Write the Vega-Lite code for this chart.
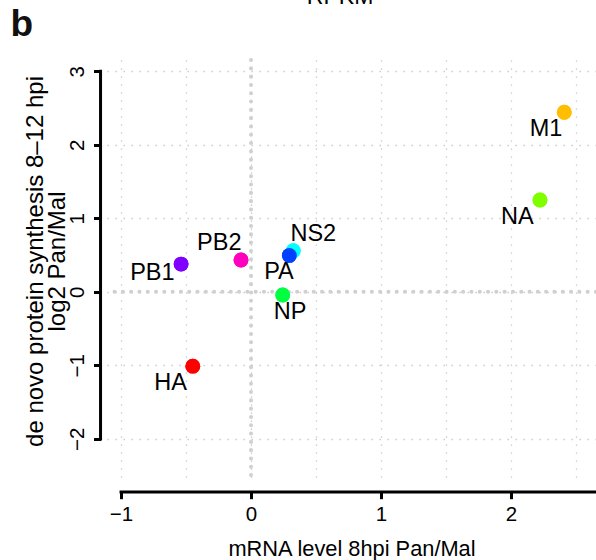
{
  "$schema": "https://vega.github.io/schema/vega-lite/v6.json",
  "width": 489,
  "height": 423,
  "autosize": {"type": "none"},
  "padding": {"left": 107, "top": 60, "right": 0, "bottom": 77},
  "config": {"view": {"stroke": null}, "font": "Liberation Sans"},
  "data": {
    "values": [
      {"gene": "HA", "mrna": -0.448, "protein": -1.011, "lx": -0.618, "ly": -1.246},
      {"gene": "M1", "mrna": 2.41, "protein": 2.441, "lx": 2.269, "ly": 2.21},
      {"gene": "NA", "mrna": 2.223, "protein": 1.248, "lx": 2.049, "ly": 1.021},
      {"gene": "NP", "mrna": 0.244, "protein": -0.044, "lx": 0.3, "ly": -0.275},
      {"gene": "NS2", "mrna": 0.325, "protein": 0.559, "lx": 0.479, "ly": 0.785},
      {"gene": "PA", "mrna": 0.295, "protein": 0.495, "lx": 0.215, "ly": 0.265},
      {"gene": "PB1", "mrna": -0.538, "protein": 0.377, "lx": -0.759, "ly": 0.25},
      {"gene": "PB2", "mrna": -0.077, "protein": 0.432, "lx": -0.244, "ly": 0.667}
    ]
  },
  "resolve": {"axis": {"x": "independent", "y": "independent"}},
  "layer": [
    {
      "mark": {"type": "circle", "size": 220, "opacity": 1},
      "encoding": {
        "x": {
          "field": "mrna", "type": "quantitative",
          "scale": {"domain": [-1.108, 2.654], "nice": false, "zero": false},
          "axis": {
            "orient": "bottom", "values": [-1, -0.5, 0, 0.5, 1, 1.5, 2, 2.5],
            "grid": true, "gridDash": [1.3, 6.7], "gridColor": "#c4c4c4", "gridWidth": 1.3,
            "domain": false, "ticks": false, "labels": false, "title": null
          }
        },
        "y": {
          "field": "protein", "type": "quantitative",
          "scale": {"domain": [-2.6, 3.152], "nice": false, "zero": false},
          "axis": {
            "orient": "left", "values": [-2, -1, 0, 1, 2, 3], "offset": 6.5,
            "grid": true, "gridDash": [1.3, 6.7], "gridColor": "#c4c4c4", "gridWidth": 1.3,
            "domain": false, "ticks": true, "tickSize": 7, "tickWidth": 3, "tickColor": "black",
            "labelAngle": 270, "labelAlign": "center", "labelBaseline": "alphabetic",
            "labelPadding": 10.5, "labelFontSize": 20.5, "labelColor": "black",
            "labelFont": "Liberation Sans",
            "title": ["de novo protein synthesis 8\u201312 hpi", "log2 Pan/Mal"],
            "titleFontSize": 24, "titleFontWeight": "normal", "titleColor": "black",
            "titleFont": "Liberation Sans", "titleLineHeight": 22,
            "titleAngle": 270, "titleAlign": "center", "titleBaseline": "bottom",
            "titleX": -53, "titleY": 201
          }
        },
        "color": {
          "field": "gene", "type": "nominal", "legend": null,
          "scale": {
            "domain": ["HA", "M1", "NA", "NP", "NS2", "PA", "PB1", "PB2"],
            "range": ["#FF0000", "#FFBF00", "#80FF00", "#00FF40", "#00FFFF", "#0040FF", "#8000FF", "#FF00BF"]
          }
        }
      }
    },
    {
      "data": {"values": [{}]},
      "mark": {"type": "rule", "color": "#d0d0d0", "strokeWidth": 4, "strokeDash": [0.1, 8.2], "strokeCap": "round"},
      "encoding": {"x": {"datum": 0, "type": "quantitative", "axis": null}}
    },
    {
      "data": {"values": [{}]},
      "mark": {"type": "rule", "color": "#d0d0d0", "strokeWidth": 4, "strokeDash": [0.1, 8.2], "strokeCap": "round"},
      "encoding": {"y": {"datum": 0, "type": "quantitative", "axis": null}}
    },
    {
      "mark": {"type": "circle", "size": 220, "opacity": 1},
      "encoding": {
        "x": {"field": "mrna", "type": "quantitative", "axis": null},
        "y": {"field": "protein", "type": "quantitative", "axis": null},
        "color": {"field": "gene", "type": "nominal", "legend": null}
      }
    },
    {
      "mark": {"type": "text", "fontSize": 23.5, "font": "Liberation Sans", "color": "black", "align": "center", "baseline": "middle"},
      "encoding": {
        "x": {
          "field": "lx", "type": "quantitative",
          "axis": {
            "orient": "bottom", "values": [-1, 0, 1, 2], "offset": 8.7,
            "grid": false, "domain": false, "ticks": true, "tickSize": 7, "tickWidth": 3, "tickColor": "black",
            "labelFontSize": 20.5, "labelColor": "black", "labelPadding": 6, "labelFont": "Liberation Sans",
            "title": "mRNA level 8hpi Pan/Mal", "titleFontSize": 21.8, "titleFontWeight": "normal",
            "titleColor": "black", "titleFont": "Liberation Sans", "titlePadding": 13
          }
        },
        "y": {"field": "ly", "type": "quantitative", "axis": null},
        "text": {"field": "gene"}
      }
    },
    {
      "data": {"values": [{}]},
      "mark": {"type": "rule", "color": "black", "strokeWidth": 3, "strokeCap": "square"},
      "encoding": {
        "x": {"datum": -1.1577, "type": "quantitative", "axis": null},
        "y": {"datum": -2, "type": "quantitative", "axis": null},
        "y2": {"datum": 3}
      }
    },
    {
      "data": {"values": [{}]},
      "mark": {"type": "rule", "color": "black", "strokeWidth": 3, "strokeCap": "square"},
      "encoding": {
        "y": {"datum": -2.721, "type": "quantitative", "axis": null},
        "x": {"datum": -1, "type": "quantitative", "axis": null},
        "x2": {"datum": 2.7}
      }
    },
    {
      "data": {"values": [{}]},
      "mark": {"type": "text", "text": "b", "fontSize": 37, "fontWeight": "bold", "font": "Liberation Sans", "align": "left", "baseline": "alphabetic", "color": "#111111"},
      "encoding": {
        "x": {"datum": -1.85, "type": "quantitative", "axis": null},
        "y": {"datum": 3.479, "type": "quantitative", "axis": null}
      }
    },
    {
      "data": {"values": [{}]},
      "mark": {"type": "text", "text": "RPKM", "fontSize": 23, "font": "Liberation Sans", "align": "center", "baseline": "alphabetic", "color": "black"},
      "encoding": {
        "x": {"datum": 0.685, "type": "quantitative", "axis": null},
        "y": {"datum": 3.915, "type": "quantitative", "axis": null}
      }
    }
  ]
}
